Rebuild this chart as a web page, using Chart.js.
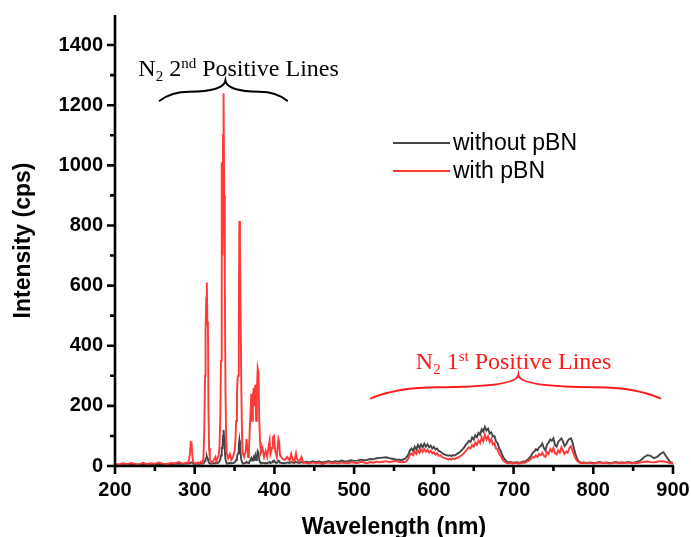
<!DOCTYPE html>
<html>
<head>
<meta charset="utf-8">
<script src="https://cdn.jsdelivr.net/npm/chart.js@4.4.1/dist/chart.umd.min.js"></script>
<style>
html,body{margin:0;padding:0;background:#fff;}
canvas{display:block;}
</style>
</head>
<body>
<canvas id="c" width="691" height="537"></canvas>
<script>
// ---- Data (wavelength in nm, intensity in cps) ----
const wavelengths = [
  200,205,210,215,220,225,230,235,240,245,250,255,260,265,270,275,280,285,290,
  292,294,295,296,297,298,300,
  302,304,306,308,310,
  311,312,313,313.6,314.5,315.2,315.9,316.6,317.3,318,319,320,
  322,324,326,327,328,330,331,332,333,333.9,
  334.8,335.5,336.2,337,337.8,338.6,339.5,340,
  342,344,346,348,350,351,352,353,353.7,354.5,
  355.3,356,356.8,357.6,358.5,359.5,360,
  362,364,365,366,367,368,369,370,371,372,
  373,374,375,376,377,378,379,380,381,382,383,
  385,387,389,391,393,394,395,397,398,399.5,
  401,403,405,406,407,410,413,416,419,421,
  423,425,427,428,431,434,436,
  440,444,448,452,456,460,464,468,472,476,480,484,488,492,496,500,504,508,512,516,520,524,528,532,536,540,544,548,552,556,
  560,562,564,566,568,570,572,574,576,578,
  580,582,584,586,588,590,592,594,596,598,
  600,602,604,606,608,610,612,614,616,618,
  620,622,624,626,628,630,632,634,636,638,
  640,642,644,646,648,650,652,654,656,658,
  660,662,664,666,668,670,672,674,676,678,
  680,682,684,686,688,690,692,694,696,698,
  700,702,704,706,708,710,712,714,716,718,
  720,722,724,726,728,730,732,734,736,738,
  740,742,744,746,748,750,752,754,756,758,
  760,762,764,766,768,770,772,774,776,778,
  780,782,784,786,788,
  792,796,800,804,808,812,816,820,824,828,832,836,840,844,848,852,856,860,864,868,872,876,880,884,888,892,896,900
];
const withPBN = [
  8,5,9,6,10,7,5,11,6,9,7,12,8,6,10,9,13,8,11,
  10,40,80,78,35,12,10,
  8,12,9,15,10,
  30,120,300,450,560,610,480,460,180,60,25,15,
  12,20,30,15,22,35,60,150,350,1010,
  700,1100,1240,900,600,250,80,45,
  25,40,20,30,50,80,150,240,290,300,
  470,815,720,500,250,80,45,
  30,50,90,60,30,45,120,180,240,150,
  220,260,200,270,150,250,325,310,150,80,45,
  60,30,50,30,70,85,40,60,95,100,
  50,30,90,80,35,25,20,30,18,40,
  20,15,42,25,15,30,12,
  10,8,12,9,11,7,10,13,9,11,8,12,10,9,13,11,10,14,12,9,13,11,15,12,14,16,13,15,17,14,
  12,14,13,18,25,38,42,36,48,40,
  52,44,55,46,56,47,54,45,50,42,
  46,38,42,34,36,30,28,26,24,22,
  24,22,25,23,26,28,30,34,38,44,
  50,56,62,58,70,64,78,70,85,76,
  95,82,105,88,98,80,90,72,76,58,
  55,40,34,22,16,12,10,9,11,8,
  10,9,11,8,10,9,12,10,14,16,
  20,24,30,28,35,30,40,36,44,34,
  30,46,40,56,48,60,42,38,52,44,
  62,50,40,48,44,60,66,50,36,24,
  16,12,10,9,11,
  9,11,8,10,12,9,11,8,10,12,9,11,10,12,9,11,10,12,14,15,13,12,14,16,15,13,10,9
];
const withoutPBN = [
  4,3,5,4,6,5,4,6,5,5,6,7,5,6,6,7,8,7,8,
  8,9,12,12,10,8,7,
  7,8,7,9,8,
  9,12,18,24,28,32,26,22,14,10,9,8,
  8,9,10,9,10,12,15,22,35,60,
  60,100,120,90,50,22,12,10,
  9,10,9,10,12,15,20,28,38,42,
  70,85,60,40,20,12,10,
  9,10,14,12,10,11,16,20,26,18,
  22,30,24,35,20,30,50,45,20,12,10,
  11,9,10,9,12,14,10,12,16,18,
  12,10,18,16,11,10,9,12,10,13,
  11,10,14,12,10,13,11,
  14,12,16,13,15,12,14,17,13,16,14,18,15,16,19,17,18,21,19,20,23,22,26,27,28,29,26,24,22,21,
  20,22,24,30,38,52,58,50,64,55,
  70,60,72,62,74,64,72,62,68,58,
  64,55,58,50,48,44,40,38,36,34,
  36,33,36,35,38,42,45,50,55,62,
  70,76,84,80,95,88,102,96,110,104,
  122,115,130,118,124,108,112,98,100,82,
  76,58,50,35,26,18,14,12,13,11,
  12,11,13,10,12,13,15,14,18,22,
  28,34,44,48,56,52,62,66,75,60,
  52,72,78,88,84,92,70,64,80,86,
  92,82,66,72,84,90,92,78,56,36,
  22,15,12,11,12,
  10,12,10,11,13,10,12,10,11,13,11,12,11,13,11,12,14,20,30,36,34,26,30,40,46,30,14,10
];
const xTicks = [200,300,400,500,600,700,800,900];
const yTicks = [0,200,400,600,800,1000,1200,1400];
const seriesNames = ['without pBN','with pBN'];

// ---- Build datasets ----
const toPts = arr => wavelengths.map((w,i)=>({x:w,y:arr[i]}));
const GRAY = '#444444';
const RED = '#ff3838';

// ---- Plugin: axes ticks, titles, legend, annotations ----
const decor = {
  id:'decor',
  afterDraw(chart){
    const ctx = chart.ctx;
    const xs = chart.scales.x, ys = chart.scales.y;
    const ca = chart.chartArea;
    ctx.save();
    // axis lines
    ctx.strokeStyle = '#000'; ctx.lineWidth = 2.6; ctx.lineCap='butt';
    ctx.beginPath();
    ctx.moveTo(ca.left, ca.top); ctx.lineTo(ca.left, ca.bottom+1.3);
    ctx.moveTo(ca.left-1.3, ca.bottom); ctx.lineTo(ca.right+1, ca.bottom);
    ctx.stroke();
    // y ticks (major every 200, minor every 100)
    ctx.beginPath();
    for(let v=0; v<=1400; v+=100){
      const y = ys.getPixelForValue(v);
      const len = (v % 200 === 0) ? 8 : 5;
      ctx.moveTo(ca.left - len, y); ctx.lineTo(ca.left, y);
    }
    // x ticks (major every 100, minor every 50)
    for(let v=200; v<=900; v+=50){
      const x = xs.getPixelForValue(v);
      const len = (v % 100 === 0) ? 8 : 5;
      ctx.moveTo(x, ca.bottom); ctx.lineTo(x, ca.bottom + len);
    }
    ctx.stroke();

    // axis titles
    ctx.fillStyle = '#000';
    ctx.font = 'bold 23px "Liberation Sans", Arial, sans-serif';
    ctx.textAlign = 'center'; ctx.textBaseline = 'alphabetic';
    ctx.fillText('Wavelength (nm)', (ca.left+ca.right)/2, 534);
    ctx.save();
    ctx.translate(30, (ca.top+ca.bottom)/2);
    ctx.rotate(-Math.PI/2);
    ctx.fillText('Intensity (cps)', 0, 0);
    ctx.restore();

    // legend
    ctx.font = '23px "Liberation Sans", Arial, sans-serif';
    ctx.textAlign = 'left'; ctx.textBaseline = 'middle';
    const lx0 = 393, lx1 = 450;
    const rows = [[seriesNames[0], GRAY, 143],[seriesNames[1], RED, 171]];
    rows.forEach(([t,c,y])=>{
      ctx.strokeStyle = c; ctx.lineWidth = 2;
      ctx.beginPath(); ctx.moveTo(lx0,y); ctx.lineTo(lx1,y); ctx.stroke();
      ctx.fillStyle = '#000';
      ctx.fillText(t, lx1+3, y+1);
    });

    // annotations
    const px = v => xs.getPixelForValue(v);
    const py = v => ys.getPixelForValue(v);
    function label(parts, cx, by, color){
      const base = 24, small = 15;
      ctx.fillStyle = color; ctx.textBaseline='alphabetic'; ctx.textAlign='left';
      let w = 0;
      parts.forEach(p=>{ ctx.font = (p.s? small: base)+'px "Liberation Serif", "Times New Roman", serif'; w += ctx.measureText(p.t).width; });
      let x = cx - w/2;
      parts.forEach(p=>{
        ctx.font = (p.s? small: base)+'px "Liberation Serif", "Times New Roman", serif';
        const dy = p.s==='sub' ? 5 : (p.s==='sup' ? -8 : 0);
        ctx.fillText(p.t, x, by+dy);
        x += ctx.measureText(p.t).width;
      });
    }
    function brace(x0, x1, xc, yEnd, yFlat, yTip, color){
      ctx.strokeStyle = color; ctx.lineWidth = 2; ctx.lineCap='round';
      ctx.beginPath();
      ctx.moveTo(x0, yEnd);
      ctx.quadraticCurveTo(x0 + (xc-x0)*0.18, yFlat, x0 + (xc-x0)*0.45, yFlat);
      ctx.quadraticCurveTo(xc - 2, yFlat, xc, yTip);
      ctx.quadraticCurveTo(xc + 2, yFlat, xc + (x1-xc)*0.55, yFlat);
      ctx.quadraticCurveTo(x1 - (x1-xc)*0.18, yFlat, x1, yEnd);
      ctx.stroke();
    }
    // N2 2nd positive
    label([{t:'N'},{t:'2',s:'sub'},{t:' 2'},{t:'nd',s:'sup'},{t:' Positive Lines'}], px(355), py(1297), '#000');
    brace(px(256), px(416), px(338.5), py(1215), py(1245), py(1282), '#000');
    // N2 1st positive
    label([{t:'N'},{t:'2',s:'sub'},{t:' 1'},{t:'st',s:'sup'},{t:' Positive Lines'}], px(700), py(323), '#ff1a1a');
    brace(px(521), px(884), px(706), py(225), py(262), py(302), '#ff1a1a');
    ctx.restore();
  }
};

const tickFont = {family:'"Liberation Sans", Arial, sans-serif', size:20, weight:'bold'};

new Chart(document.getElementById('c'), {
  type:'line',
  data:{
    datasets:[
      {label:seriesNames[0], data:toPts(withoutPBN), borderColor:GRAY, borderWidth:1.9, pointRadius:0, tension:0, order:1},
      {label:seriesNames[1], data:toPts(withPBN), borderColor:RED, borderWidth:1.9, pointRadius:0, tension:0, order:0}
    ]
  },
  options:{
    responsive:false, animation:false,
    layout:{padding:{top:15,right:18,left:0,bottom:0}},
    plugins:{legend:{display:false}, tooltip:{enabled:false}},
    scales:{
      x:{type:'linear', min:200, max:900,
        afterFit(s){ s.height = 71; s.paddingLeft = 0; s.paddingRight = 0; },
        afterBuildTicks(s){ s.ticks = xTicks.map(v=>({value:v})); },
        grid:{display:false, drawTicks:false},
        border:{display:false},
        ticks:{color:'#000', padding:12, maxRotation:0, autoSkip:false, font:tickFont,
          callback:v=>String(v)}
      },
      y:{type:'linear', min:0, max:1500,
        afterFit(s){ s.width = 115; s.paddingTop = 0; s.paddingBottom = 0; },
        afterBuildTicks(s){ s.ticks = yTicks.map(v=>({value:v})); },
        grid:{display:false, drawTicks:false},
        border:{display:false},
        ticks:{color:'#000', padding:12, autoSkip:false, font:tickFont,
          callback:v=>String(v)}
      }
    }
  },
  plugins:[decor]
});
</script>
</body>
</html>
